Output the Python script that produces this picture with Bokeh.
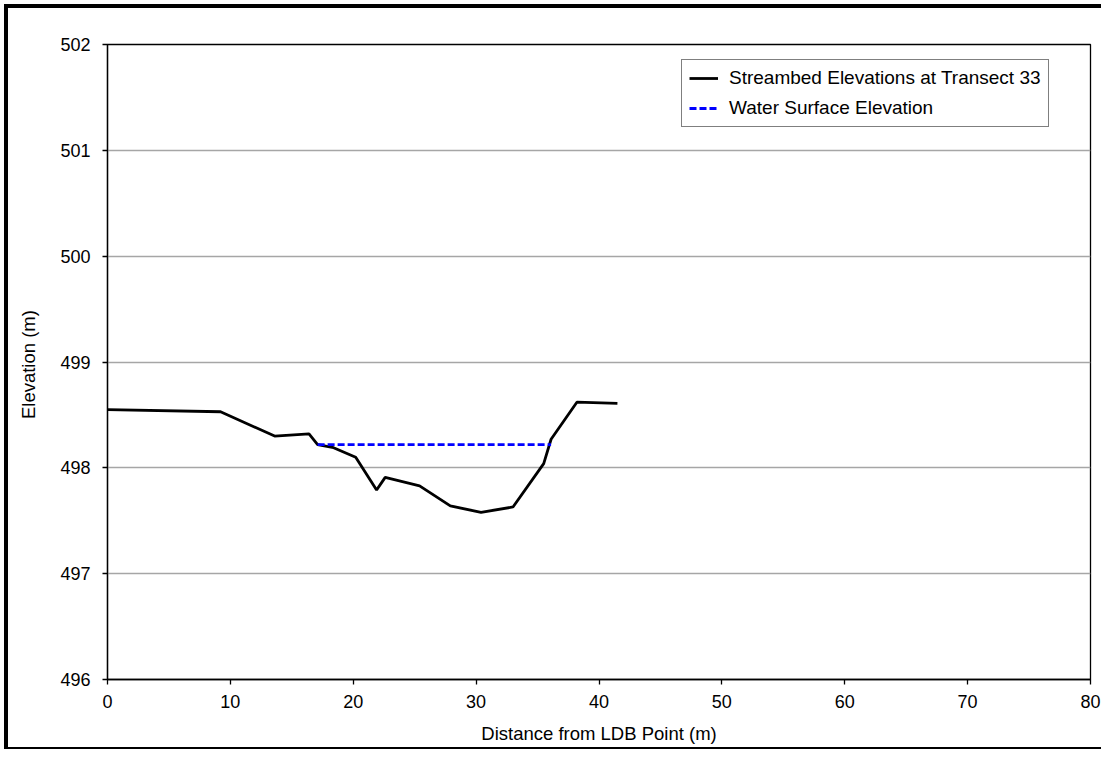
from bokeh.plotting import figure
from bokeh.models import Range1d, FixedTicker, Legend, LegendItem
from bokeh.embed import file_html
from bokeh.resources import INLINE

# Data
distance = [0.0, 9.2, 13.6, 16.4, 17.1, 18.4, 20.2, 21.9, 22.6, 25.4, 27.9, 30.4, 33.0, 35.5, 36.1, 38.2, 41.5]
elevation = [498.55, 498.53, 498.30, 498.32, 498.22, 498.19, 498.10, 497.79, 497.91, 497.83, 497.64, 497.58, 497.63, 498.04, 498.27, 498.62, 498.61]
water_x = [17.1, 36.1]
water_y = [498.22, 498.22]
x_ticks = [0, 10, 20, 30, 40, 50, 60, 70, 80]
y_ticks = [496, 497, 498, 499, 500, 501, 502]

FONT = "Liberation Sans"

p = figure(width=1097, height=745, output_backend="svg", toolbar_location=None,
           x_range=Range1d(0, 80), y_range=Range1d(496, 502),
           min_border_left=99, min_border_top=36, min_border_right=15, min_border_bottom=74)
p.styles = {"margin-left": "4px", "margin-top": "4px",
            "border-left": "4px solid black", "border-top": "4px solid black",
            "border-bottom": "2px solid black"}

p.outline_line_color = "black"
p.outline_line_width = 1.3
p.background_fill_color = "white"
p.border_fill_color = "white"

p.xgrid.grid_line_color = None
p.ygrid.grid_line_color = "#a6a6a6"
p.ygrid.grid_line_width = 1.3

p.xaxis.ticker = FixedTicker(ticks=x_ticks)
p.yaxis.ticker = FixedTicker(ticks=y_ticks)
for ax in (p.xaxis[0], p.yaxis[0]):
    ax.axis_line_color = "black"
    ax.axis_line_width = 1.3
    ax.major_tick_line_color = "black"
    ax.major_tick_line_width = 1.3
    ax.major_tick_in = 0
    ax.major_tick_out = 5
    ax.minor_tick_line_color = None
    ax.major_label_text_font = FONT
    ax.major_label_text_font_size = "18px"
    ax.major_label_text_color = "black"
    ax.axis_label_text_font = FONT
    ax.axis_label_text_font_size = "18.5px"
    ax.axis_label_text_font_style = "normal"
    ax.axis_label_text_color = "black"

p.xaxis.axis_label = "Distance from LDB Point (m)"
p.yaxis.axis_label = "Elevation  (m)"
p.xaxis.major_label_standoff = 10
p.yaxis.major_label_standoff = 12
p.xaxis.axis_label_standoff = 12
p.yaxis.axis_label_standoff = 18

r1 = p.line(distance, elevation, line_color="black", line_width=2.8)
r2 = p.line(water_x, water_y, line_color="#0000ff", line_width=2.8, line_dash="7 3")

legend = Legend(items=[LegendItem(label="Streambed Elevations at Transect 33", renderers=[r1]),
                       LegendItem(label="Water Surface Elevation", renderers=[r2])],
                location=(574, 552))
legend.border_line_color = "black"
legend.border_line_width = 1.2
legend.background_fill_alpha = 1
legend.label_text_font = FONT
legend.label_text_font_size = "19px"
legend.label_text_color = "black"
legend.glyph_width = 29
legend.label_standoff = 11
legend.padding = 7
legend.spacing = 8
legend.label_height = 22
legend.glyph_height = 22
legend.margin = 0
p.add_layout(legend)

open("out.html", "w").write(file_html(p, INLINE))
